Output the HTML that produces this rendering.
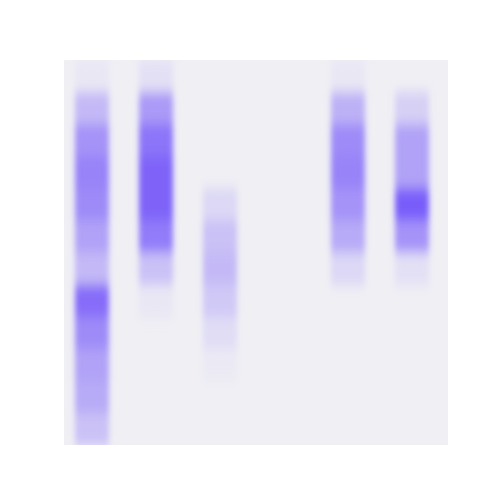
<!DOCTYPE html>
<html><head><meta charset="utf-8"><style>
html,body{margin:0;padding:0;background:#fff;width:500px;height:500px;overflow:hidden}
</style></head><body>
<svg id="chart" width="500" height="500" xmlns="http://www.w3.org/2000/svg">
<defs><filter id="blur" x="-30%" y="-20%" width="160%" height="140%"><feGaussianBlur stdDeviation="3 6"/></filter>
<clipPath id="clip"><rect x="64" y="60" width="384" height="385"/></clipPath></defs>
<rect x="64" y="60" width="384" height="385" fill="#efeff4"/>
<g clip-path="url(#clip)"><g id="cells" filter="url(#blur)"></g></g>
</svg>
<script>
const columns = ["c1","c2","c3","c4","c5","c6"];
const col1 = [0.05,0.35,0.6,0.7,0.65,0.5,0.35,0.85,0.65,0.5,0.45,0.3];
const col2 = [0.1,0.55,0.8,0.9,0.9,0.75,0.3,0.05,0,0,0,0];
const col3 = [0,0,0,0,0.15,0.3,0.35,0.25,0.12,0.03,0,0];
const col4 = [0,0,0,0,0,0,0,0,0,0,0,0];
const col5 = [0.05,0.4,0.65,0.7,0.6,0.45,0.15,0,0,0,0,0];
const col6 = [0,0.2,0.5,0.5,0.95,0.6,0.1,0,0,0,0,0];
const series = [col1,col2,col3,col4,col5,col6];
const nRows = 12;
const x0=64, y0=60, W=384, H=385;
const colW = W/columns.length, rowH = H/nRows;
const xScale = i => x0 + colW*(i+0.5) - 4;
const yScale = r => y0 + rowH*r;
function color(v){
  const bg=[239,239,244], hi=[115,85,250];
  const c=bg.map((b,k)=>Math.round(b+(hi[k]-b)*v));
  return `rgb(${c[0]},${c[1]},${c[2]})`;
}
const g=document.getElementById('cells');
series.forEach((vals,ci)=>{
  vals.forEach((v,ri)=>{
    if(v<=0) return;
    const r=document.createElementNS('http://www.w3.org/2000/svg','rect');
    
    
    r.setAttribute('x', xScale(ci)-17);
    r.setAttribute('y', yScale(ri));
    r.setAttribute('width', 34);
    r.setAttribute('height', rowH+0.5);
    r.setAttribute('fill', color(v));
    g.appendChild(r);
  });
});
</script>
</body></html>
